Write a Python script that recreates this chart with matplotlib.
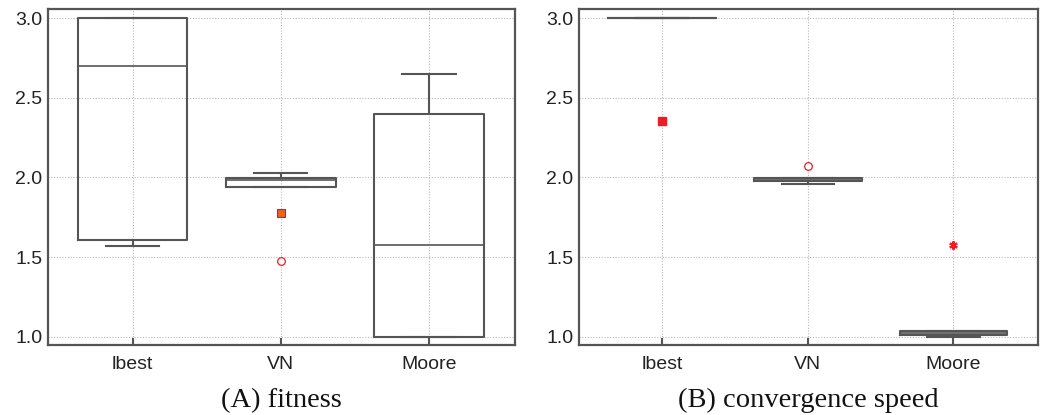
import matplotlib
matplotlib.use("Agg")
import matplotlib.pyplot as plt

groups = ["lbest", "VN", "Moore"]

# (A) fitness: box summary per group
fit_q1 = [1.607, 1.938, 1.0]
fit_med = [2.697, 1.982, 1.575]
fit_q3 = [3.0, 1.998, 2.398]
fit_lo = [1.568, 1.938, 1.0]
fit_hi = [3.0, 2.027, 2.648]
fit_out_square = [1.78]   # VN
fit_out_circle = [1.473]  # VN

# (B) convergence speed
spd_q1 = [3.0, 1.975, 1.01]
spd_med = [3.0, 1.986, 1.022]
spd_q3 = [3.0, 1.998, 1.033]
spd_lo = [3.0, 1.962, 1.0]
spd_hi = [3.0, 1.998, 1.033]
spd_out_square = [2.352]  # lbest
spd_out_circle = [2.073]  # VN
spd_out_star = [1.574]    # Moore

box_col = "#555555"
red = "#ee1c24"


def stats(q1, med, q3, lo, hi):
    return [dict(q1=a, med=b, q3=c, whislo=d, whishi=e, fliers=[])
            for a, b, c, d, e in zip(q1, med, q3, lo, hi)]


def style(ax, caption):
    ax.set_xlim(0.43, 3.58)
    ax.set_ylim(0.948, 3.058)
    ax.set_yticks([1.0, 1.5, 2.0, 2.5, 3.0])
    ax.set_xticks([1, 2, 3])
    ax.set_xticklabels(groups)
    ax.grid(True, color="#b8b8b8", linestyle=(0, (1, 1.5)), linewidth=0.8)
    ax.set_axisbelow(True)
    for s in ax.spines.values():
        s.set_color(box_col)
        s.set_linewidth(1.6)
    ax.tick_params(axis="x", direction="in", length=5, width=1.5, color=box_col,
                   pad=8, labelsize=14, labelcolor="#222222")
    ax.tick_params(axis="y", direction="in", length=0, pad=4,
                   labelsize=14, labelcolor="#222222")
    ax.text(0.5, -0.185, caption, transform=ax.transAxes, ha="center",
            va="baseline", family="Liberation Serif", fontsize=20.5,
            color="#111111")


plt.rcParams["font.family"] = ["Liberation Sans", "DejaVu Sans"]
fig = plt.figure(figsize=(10.52, 4.15), dpi=100)
ax1 = fig.add_axes([48 / 1052, 70 / 415, 467 / 1052, 336 / 415])
ax2 = fig.add_axes([579 / 1052, 70 / 415, 459 / 1052, 336 / 415])

props = dict(color=box_col, linewidth=1.5)
for ax, st in [(ax1, stats(fit_q1, fit_med, fit_q3, fit_lo, fit_hi)),
               (ax2, stats(spd_q1, spd_med, spd_q3, spd_lo, spd_hi))]:
    ax.bxp(st, positions=[1, 2, 3], widths=0.74, showfliers=False,
           boxprops=props, medianprops=dict(color=box_col, linewidth=1.2),
           whiskerprops=props, capprops=props, capwidths=0.36)

ax1.plot([2] * len(fit_out_square), fit_out_square, "s", ms=5.5,
         mfc="#f06020", mec="#7a3a7a", mew=0.8)
ax1.plot([2] * len(fit_out_circle), fit_out_circle, "o", ms=5.5,
         mfc="white", mec=red, mew=0.9)
ax2.plot([1] * len(spd_out_square), spd_out_square, "s", ms=6,
         mfc=red, mec=red)
ax2.plot([2] * len(spd_out_circle), spd_out_circle, "o", ms=5.5,
         mfc="white", mec=red, mew=0.9)
ax2.plot([3] * len(spd_out_star), spd_out_star, marker=(6, 2, 0), ms=6,
         color=red, mew=1.5, linestyle="none")

style(ax1, "(A) fitness")
style(ax2, "(B) convergence speed")

fig.savefig("out.png", dpi=100)
